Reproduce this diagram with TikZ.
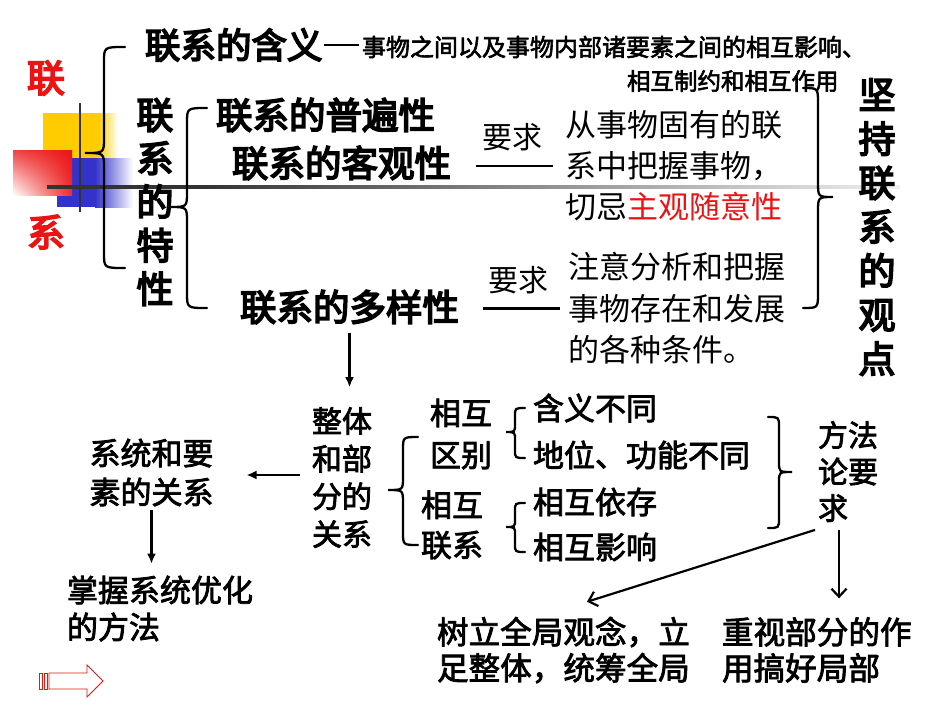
\documentclass[tikz,border=0pt]{standalone}
\usepackage{fontspec}
\newfontfamily\cjk{Noto Sans CJK SC}
\newfontfamily\cjkm{Noto Sans CJK SC}[FakeBold=2.5]
\newfontfamily\cjkb{Noto Sans CJK SC}[FakeBold=4.5]
\usetikzlibrary{arrows.meta,shadings}
\definecolor{myred}{RGB}{235,20,20}
\definecolor{myyellow}{RGB}{255,204,0}
\definecolor{myblue}{RGB}{51,51,204}
\newcommand\brc[7]{%
  \draw[br] (#1,#4) .. controls (#2,#4) .. (#2,#4+#7) -- (#2,#5-#7) .. controls (#2,#5) .. (#3,#5) .. controls (#2,#5) .. (#2,#5+#7) -- (#2,#6-#7) .. controls (#2,#6) .. (#1,#6);}
\begin{document}
\begin{tikzpicture}[x=1pt,y=-1pt,
  every node/.style={inner sep=0pt, outer sep=0pt},
  fb/.style 2 args={font=\cjkb\fontsize{#1}{#2}\selectfont},
  fm/.style 2 args={font=\cjkm\fontsize{#1}{#2}\selectfont},
  fl/.style 2 args={font=\cjk\fontsize{#1}{#2}\selectfont},
  br/.style={line width=2.3pt, line cap=round},
  ln/.style={line width=2.3pt},
  arr/.style={line width=2.2pt, -{Latex[length=10pt,width=9pt]}},
  oarr/.style={line width=2.2pt, -{Straight Barb[length=8pt,width=15pt]}}]
\useasboundingbox (0,0) rectangle (950,713);
\fill[white] (0,0) rectangle (950,713);
% decoration
\fill[myyellow] (43,113) rectangle (98,186);
\shade[left color=myyellow, right color=white] (98,113) rectangle (118,186);
\fill[myblue] (57,158) rectangle (95,207);
\shade[left color=myblue, right color=white] (95,158) rectangle (133,207);
\shade[upper left=myred!80!white, upper right=myred, lower right=myred!90!white, lower left=white] (13,150) rectangle (72,195);
\draw[line width=2.5pt, black!80] (80,103) -- (80,212);
\fill[black!80] (47,185.3) rectangle (200,188.7);
\shade[left color=black!80, right color=black!6] (200,185.3) rectangle (900,188.7);
% red hollow arrow
\draw[myred, line width=0.9pt, fill=white] (49,673) -- (87,673) -- (87,665) -- (103,681) -- (87,697) -- (87,689) -- (49,689) -- cycle;
\draw[myred, line width=0.9pt] (39.5,673) rectangle (42.5,689);
\draw[myred, line width=0.9pt] (44,673) rectangle (47,689);
% nodes
\node[fb={38}{44}, text=myred] (lian) at (46,78) {联};
\node[fb={38}{44}, text=myred] (xi) at (46,232) {系};
\node[fb={35.5}{44}, anchor=west] (hy) at (145,45) {联系的含义};
\node[fm={24}{30}, anchor=west] (def1) at (362,47) {事物之间以及事物内部诸要素之间的相互影响、};
\node[fm={23.5}{30}, anchor=west] (def2) at (627,81) {相互制约和相互作用};
\node[fb={37}{43.5}, align=center] (tx) at (155,202) {联\\系\\的\\特\\性};
\node[fb={36.5}{44}, anchor=west] (pb) at (216,115) {联系的普遍性};
\node[fb={36.5}{44}, anchor=west] (kg) at (232,163) {联系的客观性};
\node[fb={36.5}{44}, anchor=west] (dy) at (240,307) {联系的多样性};
\node[fl={30}{36}] (yq1) at (512,137) {要求};
\node[fl={30}{36}] (yq2) at (518,280) {要求};
\node[fl={31}{41}, anchor=west, align=left] (d1) at (565,166) {从事物固有的联\\系中把握事物，\\切忌{\color{myred}主观随意性}};
\node[fl={31}{41.5}, anchor=west, align=left] (d2) at (568,308.5) {注意分析和把握\\事物存在和发展\\的各种条件。};
\node[fb={37}{44}, align=center] (jc) at (877,227) {坚\\持\\联\\系\\的\\观\\点};
\node[fm={30}{37.7}, align=center] (zt) at (342,477.5) {整体\\和部\\分的\\关系};
\node[fm={31}{39}, align=center] (xt) at (151.5,472.5) {系统和要\\素的关系};
\node[fm={31}{37}, anchor=west, align=left] (zw) at (67,608.5) {掌握系统优化\\的方法};
\node[fm={31}{42}, align=center] (qb) at (461,434) {相互\\区别};
\node[fm={31}{40}, align=center] (lx) at (452,525) {相互\\联系};
\node[fm={31}{37}, anchor=west] (h1) at (533,408) {含义不同};
\node[fm={31}{37}, anchor=west] (h2) at (533,455) {地位、功能不同};
\node[fm={31}{37}, anchor=west] (h3) at (533,502) {相互依存};
\node[fm={31}{37}, anchor=west] (h4) at (533,547) {相互影响};
\node[fm={30}{36.5}, anchor=west, align=left] (ff) at (818,471.5) {方法\\论要\\求};
\node[fm={31.6}{36}, anchor=west, align=left] (sl) at (437,650) {树立全局观念，立\\足整体，统筹全局};
\node[fm={31.6}{36}, anchor=west, align=left] (zs) at (722,650) {重视部分的作\\用搞好局部};
% braces
\brc{125}{104}{85}{47}{153}{268}{15}
\brc{207}{187}{170}{108}{207}{308}{15}
\brc{803}{818}{833}{88}{197}{308}{15}
\brc{418}{403}{388}{437}{490}{545}{13}
\brc{525}{515}{506}{408}{432}{458}{8}
\brc{525}{515}{506}{503}{527}{552}{8}
\brc{768}{779}{792}{417}{472}{528}{10}
% connectors
\draw[line width=2.6pt] ([xshift=1pt]hy.east) -- ([xshift=-3pt]hy.east -| def1.west);
\draw[ln] ([xshift=25pt]kg.east |- d1.west) -- ([xshift=-12pt]d1.west);
\draw[ln] ([xshift=24pt]dy.east |- d2.west) -- ([xshift=-8pt]d2.west);
\draw[arr, shorten <=9pt, shorten >=20pt] (dy.south) -- (dy.south |- zt.north);
\draw[arr, shorten <=12pt, shorten >=33pt] ([yshift=2.5pt]zt.west) -- ([yshift=2.5pt]zt.west -| xt.east);
\draw[arr, shorten <=4pt, shorten >=12pt] (xt.south) -- (xt.south |- zw.north);
\draw[oarr] ([xshift=-3pt,yshift=-8pt]ff.south west) -- ([xshift=150pt,yshift=15pt]sl.north west);
\draw[oarr, shorten >=19pt] ([xshift=21pt,yshift=-8pt]ff.south west) -- ([xshift=21pt]ff.south west |- zs.north);
\end{tikzpicture}
\end{document}
